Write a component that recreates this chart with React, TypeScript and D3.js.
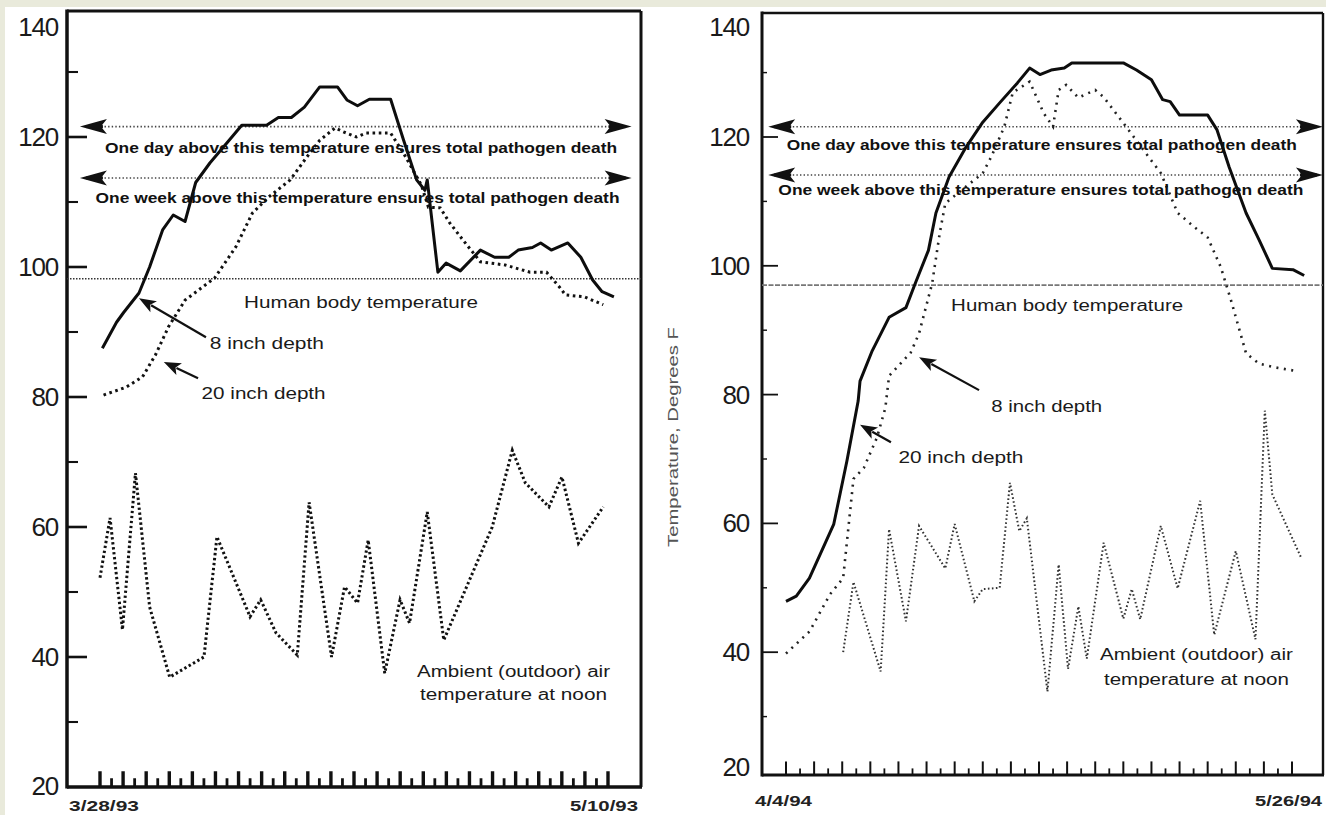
import React from 'react';
import * as d3 from 'd3';

// ---------- DATA (left panel: 3/28/93 - 5/10/93, x in days since 3/28/93) ----------
const leftDays8 = [0.2,1.4,2.0,3.3,4.2,5.3,6.2,7.2,8.1,9.3,10.7,12.0,14.1,15.1,16.2,17.3,18.6,20.1,20.9,21.8,22.8,24.6,25.7,26.8,27.5,27.7,28.6,29.3,30.5,32.2,33.4,34.6,35.4,36.6,37.3,38.2,39.6,40.7,41.7,42.5,43.5];
const leftTemp8 = [87.5,91.5,93,96,100,105.7,108,107,113,116,119,121.8,121.8,123,123,124.6,127.7,127.7,125.7,124.8,125.8,125.8,119.5,113.4,111.8,113.4,99.2,100.6,99.4,102.6,101.5,101.5,102.6,103,103.7,102.6,103.7,101.5,98,96.2,95.4];
const leftDays20 = [0.3,2.2,3.6,4.7,5.8,7.2,9.7,11.5,12.9,14.3,16.1,17.5,18.6,19.9,20.6,21.7,22.5,24.6,25.7,27.2,27.8,28.8,29.6,30.7,32.2,34.3,36.4,37.8,38.9,39.4,41.0,42.6];
const leftTemp20 = [80.3,81.5,83.1,86.5,90.8,94.9,98.3,103.1,108.3,110.8,113.4,116.9,119.5,121.4,120.8,120,120.6,120.6,117.5,112.6,109.2,109.1,106.8,104.2,100.8,100.3,99.2,99.2,96.9,95.7,95.4,94.2];
const leftDaysAir = [0,0.85,1.9,3.0,4.2,5.9,8.8,9.9,12.7,13.6,14.9,16.7,17.7,19.6,20.7,21.8,22.7,24.1,25.4,26.2,27.7,29.1,33.2,34.9,36.0,38.0,39.1,40.5,42.6];
const leftTempAir = [52.2,61.4,44.2,68.3,47.7,36.9,40,58.5,46.2,48.8,43.7,40.3,63.8,40,50.8,48.3,58,37.5,48.8,45.2,62.3,42.6,60,71.8,66.8,63.1,67.7,57.5,63.1];

// ---------- DATA (right panel: 4/4/94 - 5/26/94, x in days since 4/4/94) ----------
const rightDays8 = [0,1.1,2.5,5.1,6.5,7.7,7.9,9.2,11,12.8,13.8,15.2,16,17.4,19.2,21,22.8,24.7,26,27.1,28.3,29.7,30.5,36,37.4,39,40.2,41,42,45,46,47.3,49.1,50.5,51.9,54.1,55.3];
const rightTemp8 = [47.9,48.7,51.5,59.9,69.7,79,82.1,86.8,92,93.5,97.3,102.4,108.2,113.8,118.4,122.3,125.3,128.4,130.7,129.7,130.4,130.7,131.5,131.5,130.4,128.9,125.8,125.5,123.4,123.4,121.1,115.3,108.2,104,99.6,99.4,98.5];
const rightDays20 = [0,2.5,4.7,6.1,7.2,8.3,9.7,10.6,11,13.3,14.2,15.6,16.4,17,21,21.9,23.3,24.2,26,27.5,28.5,29.1,29.9,31.2,33,33.9,36.4,38.7,40,41.8,43.6,45,46.4,47.5,49.1,50.5,52.3,54.3];
const rightTemp20 = [39.8,43.2,49,51.5,66.9,68.6,73.3,77.9,82.9,86.5,89.5,97.3,105,109.7,114.4,116.9,121.6,126.9,128.6,123.7,121.6,127.3,128.1,126.1,127.3,126.2,121.4,116.9,114.4,108.2,106,104.4,99.8,94.6,86.4,84.8,84.2,83.7];
const rightDaysAir = [6.1,7.2,10.1,11,12.8,14.2,17,18,20.1,21,22.8,23.9,24.9,25.7,27.9,29.1,30.1,31.2,32.1,33.9,36,36.9,37.8,40,41.8,44.2,45.7,48,50.1,51.1,51.9,55];
const rightTempAir = [40,50.9,37,59.1,44.8,59.6,53,59.9,47.9,49.8,50,66.3,58.8,60.8,33.9,53.6,37.4,47.1,39,57,45.2,49.8,45.1,59.6,49.9,63.5,42.7,55.7,42,77.5,64.5,54.6];

// ---------- AXIS / LABEL TEXT ----------
const yMajorTicks = [20, 40, 60, 80, 100, 120, 140];
const yMinorTicks = [30, 50, 70, 90, 110, 130];
const leftDateLabels = ['3/28/93', '5/10/93'];
const rightDateLabels = ['4/4/94', '5/26/94'];
const thresholdsLeft = [121.6, 113.7, 98.2];
const thresholdsRight = [121.6, 114.1, 97.0];
const dayText = 'One day above this temperature ensures total pathogen death';
const weekText = 'One week above this temperature ensures total pathogen death';
const bodyText = 'Human body temperature';
const depth8Text = '8 inch depth';
const depth20Text = '20 inch depth';
const ambientText = ['Ambient (outdoor) air', 'temperature at noon'];
const yTitle = 'Temperature, Degrees F';

const FONT = "'Liberation Sans', Arial, Helvetica, sans-serif";

const zip = (a: number[], b: number[]) => a.map((v, i) => [v, b[i]] as [number, number]);

type Cfg = {
  xDomain: [number, number];
  xRange: [number, number];
  yRange: [number, number];
  frame: { l: number; r: number; t: number; b: number; wl: number; wb: number; wt: number; wr: number };
  nTicks: number;
  tickStep: number;
  tallLen: number; shortLen: number; tallW: number; shortW: number;
  yMajLen: number; yMinLen: number; yTickW: number;
  labelRight: number; labelMaxY: number;
  d8: [number[], number[]]; d20: [number[], number[]]; air: [number[], number[]];
  s20: { w: number; dash: string; color: string };
  sAir: { w: number; dash: string; color: string };
  thresholds: number[];
  arrowFrom: number; arrowTo: number;
  dayPos: [number, number, number]; weekPos: [number, number, number];
  bodyPos: [number, number, number];
  bodyStyle: { dash: string; color: string; w: number };
  l8: [number, number, number]; a8: [number, number, number, number];
  l20: [number, number, number]; a20: [number, number, number, number];
  airPos: [number, number, number, number, number];
  dates: string[];
  dateY: number; dateLens: [number, number]; dateL: number; dateR: number;
};

const leftCfg: Cfg = {
  xDomain: [0, 43], xRange: [100, 608], yRange: [787, 7],
  frame: { l: 67, r: 641, t: 11, b: 787, wl: 3.5, wb: 3.5, wt: 3, wr: 3 },
  nTicks: 45, tickStep: 43 / 44,
  tallLen: 14, shortLen: 7, tallW: 3.4, shortW: 2.8,
  yMajLen: 20, yMinLen: 11, yTickW: 2.6,
  labelRight: 58, labelMaxY: 786,
  d8: [leftDays8, leftTemp8], d20: [leftDays20, leftTemp20], air: [leftDaysAir, leftTempAir],
  s20: { w: 3, dash: '2.6 3.6', color: '#111' },
  sAir: { w: 3, dash: '2.4 2.6', color: '#111' },
  thresholds: thresholdsLeft,
  arrowFrom: -1.7, arrowTo: 45.0,
  dayPos: [22.1, 118.3, 512], weekPos: [21.8, 110.6, 524],
  bodyPos: [22.1, 94.5, 234],
  bodyStyle: { dash: '1.5 1.5', color: '#333', w: 1.6 },
  l8: [9.3, 88.3, 114], a8: [8.97, 89.2, 3.3, 95.2],
  l20: [8.6, 80.6, 124], a20: [8.3, 82.9, 5.4, 85.4],
  airPos: [35, 37.7, 34.2, 193, 187],
  dates: leftDateLabels, dateY: 805, dateLens: [70, 68], dateL: 69, dateR: 638,
};

const rightCfg: Cfg = {
  xDomain: [0, 54], xRange: [786, 1292], yRange: [781, 8.2],
  frame: { l: 762, r: 1323, t: 13, b: 775, wl: 3, wb: 3.2, wt: 2.6, wr: 2.4 },
  nTicks: 37, tickStep: 1.5,
  tallLen: 12, shortLen: 5, tallW: 2, shortW: 1.8,
  yMajLen: 16, yMinLen: 5, yTickW: 1.8,
  labelRight: 749, labelMaxY: 767,
  d8: [rightDays8, rightTemp8], d20: [rightDays20, rightTemp20], air: [rightDaysAir, rightTempAir],
  s20: { w: 2.6, dash: '2 5.5', color: '#222' },
  sAir: { w: 2, dash: '1.6 2.4', color: '#333' },
  thresholds: thresholdsRight,
  arrowFrom: -1.9, arrowTo: 57.3,
  dayPos: [27.3, 118.8, 510], weekPos: [27.2, 111.8, 525],
  bodyPos: [30, 93.9, 232],
  bodyStyle: { dash: '5 1.5', color: '#777', w: 1.6 },
  l8: [21.9, 78.2, 111], a8: [20.6, 80.7, 14.2, 85.8],
  l20: [12, 70.2, 125], a20: [11.2, 72.6, 7.9, 75.3],
  airPos: [43.8, 39.6, 35.7, 193, 185],
  dates: rightDateLabels, dateY: 800, dateLens: [57, 67], dateL: 755, dateR: 1322,
};

function Pointer({ x1, y1, x2, y2 }: { x1: number; y1: number; x2: number; y2: number }) {
  const dx = x2 - x1, dy = y2 - y1;
  const len = Math.hypot(dx, dy);
  const ux = dx / len, uy = dy / len;
  const hl = 17, hw = 6.5;
  const bx = x2 - ux * hl, by = y2 - uy * hl;
  const pts = [
    [x2, y2],
    [bx - uy * hw, by + ux * hw],
    [x2 - ux * (hl - 4), y2 - uy * (hl - 4)],
    [bx + uy * hw, by - ux * hw],
  ];
  return (
    <g>
      <line x1={x1} y1={y1} x2={bx + ux * 3} y2={by + uy * 3} stroke="#111" strokeWidth={2.2} />
      <polygon points={pts.map(p => p.join(',')).join(' ')} fill="#111" />
    </g>
  );
}

function HArrow({ xa, xb, y }: { xa: number; xb: number; y: number }) {
  const L = 27, h = 7.5, n = 21;
  const left = [[xa, y], [xa + L, y - h], [xa + n, y], [xa + L, y + h]];
  const right = [[xb, y], [xb - L, y - h], [xb - n, y], [xb - L, y + h]];
  return (
    <g>
      <line x1={xa + n} x2={xb - n} y1={y} y2={y} stroke="#444" strokeWidth={1.6} strokeDasharray="1.4 2.2" />
      <line x1={xa + 6} x2={xa + n + 2} y1={y} y2={y} stroke="#111" strokeWidth={3} />
      <line x1={xb - n - 2} x2={xb - 6} y1={y} y2={y} stroke="#111" strokeWidth={3} />
      <polygon points={left.map(p => p.join(',')).join(' ')} fill="#111" />
      <polygon points={right.map(p => p.join(',')).join(' ')} fill="#111" />
    </g>
  );
}

function Panel({ cfg }: { cfg: Cfg }) {
  const x = d3.scaleLinear().domain(cfg.xDomain).range(cfg.xRange);
  const y = d3.scaleLinear().domain([20, 140]).range(cfg.yRange);
  const line = d3.line<[number, number]>().x(d => x(d[0])).y(d => y(d[1])).curve(d3.curveLinear);
  const f = cfg.frame;
  const ticks = d3.range(cfg.nTicks).map(i => i * cfg.tickStep);
  const T = (props: any) => <text fontFamily={FONT} lengthAdjust="spacingAndGlyphs" dominantBaseline="central" {...props} />;

  return (
    <g>
      {/* frame */}
      <line x1={f.l} x2={f.r} y1={f.t} y2={f.t} stroke="#111" strokeWidth={f.wt} />
      <line x1={f.r} x2={f.r} y1={f.t} y2={f.b} stroke="#111" strokeWidth={f.wr} />
      <line x1={f.l} x2={f.r + 1} y1={f.b} y2={f.b} stroke="#111" strokeWidth={f.wb} />
      <line x1={f.l} x2={f.l} y1={f.t - 1.5} y2={f.b + 1.5} stroke="#111" strokeWidth={f.wl} />

      {/* y ticks */}
      {yMajorTicks.filter(v => v > 20 && v < 140).map(v => (
        <line key={'M' + v} x1={f.l} x2={f.l + cfg.yMajLen} y1={y(v)} y2={y(v)} stroke="#111" strokeWidth={cfg.yTickW} />
      ))}
      {yMinorTicks.map(v => (
        <line key={'m' + v} x1={f.l} x2={f.l + cfg.yMinLen} y1={y(v)} y2={y(v)} stroke="#111" strokeWidth={cfg.yTickW * 0.8} />
      ))}
      {yMajorTicks.map(v => (
        <T key={'L' + v} x={cfg.labelRight} y={Math.min(Math.max(y(v), 27), cfg.labelMaxY)} textAnchor="end"
          fontSize={26} letterSpacing={-1.2} fill="#1a1a1a">{v}</T>
      ))}

      {/* x ticks */}
      {ticks.map((t, i) => {
        const tall = i % 2 === 0;
        return (
          <line key={'x' + i} x1={x(t)} x2={x(t)} y1={f.b} y2={f.b - (tall ? cfg.tallLen : cfg.shortLen) - f.wb / 2}
            stroke="#111" strokeWidth={tall ? cfg.tallW : cfg.shortW} />
        );
      })}
      <T x={cfg.dateL} y={cfg.dateY} fontSize={15} fontWeight="bold" textLength={cfg.dateLens[0]} fill="#222">{cfg.dates[0]}</T>
      <T x={cfg.dateR} y={cfg.dateY} textAnchor="end" fontSize={15} fontWeight="bold" textLength={cfg.dateLens[1]} fill="#222">{cfg.dates[1]}</T>

      {/* threshold lines */}
      <HArrow xa={x(cfg.arrowFrom)} xb={x(cfg.arrowTo)} y={y(cfg.thresholds[0])} />
      <HArrow xa={x(cfg.arrowFrom)} xb={x(cfg.arrowTo)} y={y(cfg.thresholds[1])} />
      <line x1={f.l} x2={f.r} y1={y(cfg.thresholds[2])} y2={y(cfg.thresholds[2])}
        stroke={cfg.bodyStyle.color} strokeWidth={cfg.bodyStyle.w} strokeDasharray={cfg.bodyStyle.dash} />

      {/* series */}
      <path d={line(zip(cfg.air[0], cfg.air[1])) || ''} fill="none" stroke={cfg.sAir.color} strokeWidth={cfg.sAir.w} strokeDasharray={cfg.sAir.dash} />
      <path d={line(zip(cfg.d20[0], cfg.d20[1])) || ''} fill="none" stroke={cfg.s20.color} strokeWidth={cfg.s20.w} strokeDasharray={cfg.s20.dash} />
      <path d={line(zip(cfg.d8[0], cfg.d8[1])) || ''} fill="none" stroke="#0d0d0d" strokeWidth={3} strokeLinejoin="round" />

      {/* texts */}
      <T x={x(cfg.dayPos[0])} y={y(cfg.dayPos[1])} textAnchor="middle" fontSize={14} fontWeight="bold" textLength={cfg.dayPos[2]} fill="#111">{dayText}</T>
      <T x={x(cfg.weekPos[0])} y={y(cfg.weekPos[1])} textAnchor="middle" fontSize={14} fontWeight="bold" textLength={cfg.weekPos[2]} fill="#111">{weekText}</T>
      <T x={x(cfg.bodyPos[0])} y={y(cfg.bodyPos[1])} textAnchor="middle" fontSize={16} textLength={cfg.bodyPos[2]} fill="#1a1a1a">{bodyText}</T>
      <T x={x(cfg.l8[0])} y={y(cfg.l8[1])} fontSize={16} textLength={cfg.l8[2]} fill="#1a1a1a">{depth8Text}</T>
      <T x={x(cfg.l20[0])} y={y(cfg.l20[1])} fontSize={16} textLength={cfg.l20[2]} fill="#1a1a1a">{depth20Text}</T>
      <T x={x(cfg.airPos[0])} y={y(cfg.airPos[1])} textAnchor="middle" fontSize={16} textLength={cfg.airPos[3]} fill="#1a1a1a">{ambientText[0]}</T>
      <T x={x(cfg.airPos[0])} y={y(cfg.airPos[2])} textAnchor="middle" fontSize={16} textLength={cfg.airPos[4]} fill="#1a1a1a">{ambientText[1]}</T>

      <Pointer x1={x(cfg.a8[0])} y1={y(cfg.a8[1])} x2={x(cfg.a8[2])} y2={y(cfg.a8[3])} />
      <Pointer x1={x(cfg.a20[0])} y1={y(cfg.a20[1])} x2={x(cfg.a20[2])} y2={y(cfg.a20[3])} />
    </g>
  );
}

export default function App() {
  return (
    <svg width={1326} height={815} style={{ position: 'absolute', left: 0, top: 0, display: 'block' }}>
      <rect x={0} y={0} width={1326} height={815} fill="#e9eadb" />
      <rect x={5} y={7} width={1321} height={808} fill="#ffffff" />
      <Panel cfg={leftCfg} />
      <Panel cfg={rightCfg} />
      <text x={673} y={437} transform="rotate(-90 673 437)" textAnchor="middle" dominantBaseline="central"
        fontFamily={FONT} fontSize={14} fill="#555" textLength={220} lengthAdjust="spacingAndGlyphs">{yTitle}</text>
    </svg>
  );
}
